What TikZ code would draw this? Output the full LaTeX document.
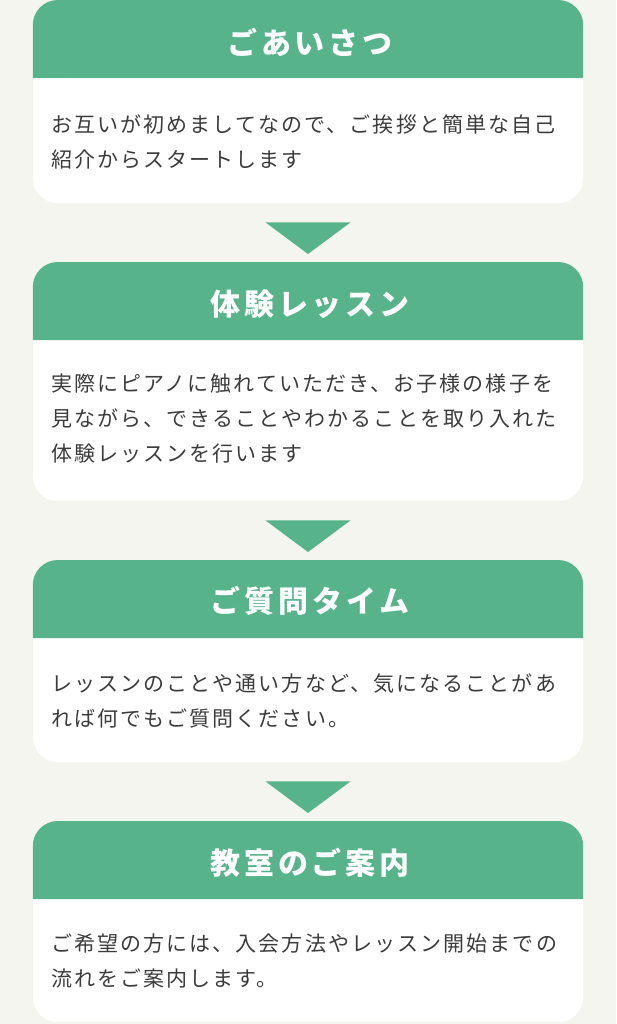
\documentclass[tikz,border=0pt]{standalone}
\usepackage{fontspec}
\usetikzlibrary{calc}
\newfontfamily\jpbody[LetterSpace=10]{Noto Sans CJK JP}
\newfontfamily\jptitle[LetterSpace=13]{Noto Sans CJK JP}
\definecolor{hdrgreen}{HTML}{57B38A}
\definecolor{bgcream}{HTML}{F4F5EE}
\definecolor{txtgray}{HTML}{3C3C3C}
\tikzset{
  card/.style={fill=white, rounded corners=25pt, minimum width=550pt, inner sep=0pt, anchor=north},
  hdr/.style={fill=hdrgreen},
  ttl/.style={text=white, font=\jptitle\bfseries\fontsize{30}{34}\selectfont, inner sep=0pt},
  bodytxt/.style={text=txtgray, font=\jpbody\fontsize{21}{35}\selectfont, align=left, anchor=west, inner sep=0pt},
  arrowtri/.style={fill=hdrgreen}
}
\begin{document}
\begin{tikzpicture}[x=1pt,y=-1pt]
\fill[bgcream] (0,0) rectangle (616,1024);
\useasboundingbox (0,0) rectangle (616,1024);
% cards
\node[card, minimum height=203pt] (c1) at (308,0) {};
\node[card, minimum height=239pt] (c2) at (308,262) {};
\node[card, minimum height=202pt] (c3) at (308,560) {};
\node[card, minimum height=201pt] (c4) at (308,821) {};
% headers
\foreach \c in {c1,c2,c3,c4}{
  \fill[hdr] ($(\c.north west)+(0,78)$) [rounded corners=25pt] -- (\c.north west) -- (\c.north east) [sharp corners] -- ($(\c.north east)+(0,78)$) -- cycle;
}
% titles
\node[ttl] (t1) at ($(c1.north)+(2,42)$) {ごあいさつ};
\node[ttl] (t2) at ($(c2.north)+(2,42)$) {体験レッスン};
\node[ttl] (t3) at ($(c3.north)+(2,41)$) {ご質問タイム};
\node[ttl] (t4) at ($(c4.north)+(2,42)$) {教室のご案内};
% body texts
\node[bodytxt] (b1) at ($(c1.north west)+(18,142)$) {お互いが初めましてなので、ご挨拶と簡単な自己\\紹介からスタートします};
\node[bodytxt] (b2) at ($(c2.north west)+(18,157)$) {実際にピアノに触れていただき、お子様の様子を\\見ながら、できることやわかることを取り入れた\\体験レッスンを行います};
\node[bodytxt] (b3) at ($(c3.north west)+(18,141)$) {レッスンのことや通い方など、気になることがあ\\れば何でもご質問ください。};
\node[bodytxt] (b4) at ($(c4.north west)+(18,140)$) {ご希望の方には、入会方法やレッスン開始までの\\流れをご案内します。};
% arrows between cards
\foreach \a/\b in {c1/c2,c2/c3,c3/c4}{
  \coordinate (tl) at ($(\a.south)+(-42.5,19)$);
  \coordinate (tr) at ($(\a.south)+(42.5,19)$);
  \coordinate (tt) at ($(\b.north)+(0,-8)$);
  \fill[arrowtri] (tl) -- (tr) -- (tt) -- cycle;
}
\end{tikzpicture}
\end{document}
